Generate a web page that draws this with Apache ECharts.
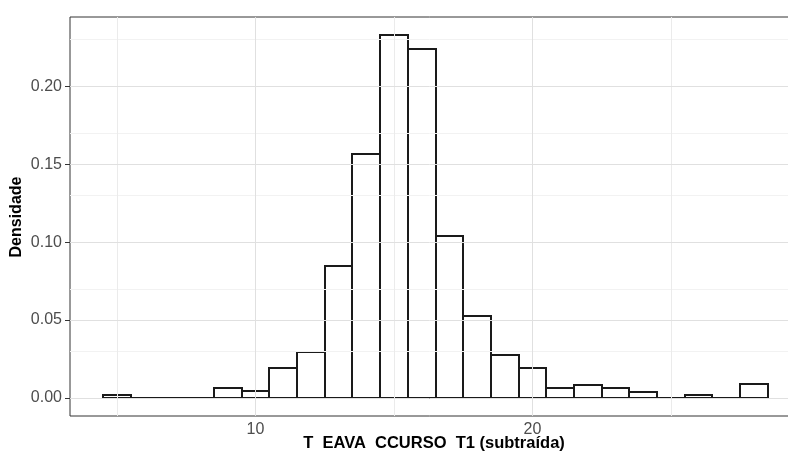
<!DOCTYPE html>
<html>
<head>
<meta charset="utf-8">
<script src="https://cdn.jsdelivr.net/npm/echarts@6/dist/echarts.min.js"></script>
<style>
  html, body { margin: 0; padding: 0; background: #fff; }
  #chart { width: 788px; height: 457px; }
</style>
</head>
<body>
<div id="chart"></div>
<script>
// bin centres (binwidth 1) and density per bin
const bins = [5, 6, 7, 8, 9, 10, 11, 12, 13, 14, 15, 16, 17, 18, 19, 20, 21, 22, 23, 24, 25, 26, 27, 28]
const density = [0.0021, 0, 0, 0, 0.0064, 0.0045, 0.0192, 0.0297, 0.0846, 0.1564, 0.2329, 0.2241,
  0.1038, 0.0528, 0.0276, 0.019, 0.0062, 0.0083, 0.0062, 0.0038, 0, 0.0021, 0, 0.0088]
const xTicks = [10, 20]
const xMinor = [5, 15, 25]
const yTicks = [0, 0.05, 0.1, 0.15, 0.2]
const yMinor = [0.025, 0.075, 0.125, 0.175, 0.225]

const FONT = 'Liberation Sans'
const chart = echarts.init(document.getElementById('chart'))

const gridLine = (vals, key, color) =>
  vals.map((v) => ({ [key]: v, lineStyle: { color: color, width: 1, type: 'solid' } }))

const option = {
  animation: false,
  textStyle: { fontFamily: FONT },
  grid: {
    left: 70,
    top: 17,
    bottom: 41,
    right: -13,
    outerBoundsMode: 'none',
    containLabel: false,
    show: true,
    borderColor: '#333333',
    borderWidth: 1,
    backgroundColor: 'transparent',
  },
  xAxis: {
    type: 'value',
    min: 3.3,
    max: 29.7,
    axisLine: { show: false },
    splitLine: { show: false },
    axisTick: { customValues: xTicks, length: 5, lineStyle: { color: '#333333' } },
    axisLabel: {
      customValues: xTicks,
      color: '#4D4D4D',
      fontSize: 16,
      margin: 6,
      fontFamily: FONT,
    },
  },
  yAxis: {
    type: 'value',
    min: -0.01165,
    max: 0.24455,
    axisLine: { show: false },
    splitLine: { show: false },
    axisTick: { customValues: yTicks, length: 5, lineStyle: { color: '#333333' } },
    axisLabel: {
      customValues: yTicks,
      color: '#4D4D4D',
      fontSize: 16,
      margin: 8,
      fontFamily: FONT,
      formatter: (v) => v.toFixed(2),
    },
  },
  graphic: [
    {
      type: 'text',
      x: 16.5,
      y: 217,
      rotation: Math.PI / 2,
      style: {
        text: 'Densidade',
        font: 'bold 16px "Liberation Sans"',
        fill: '#000',
        align: 'center',
        verticalAlign: 'middle',
      },
    },
    {
      type: 'text',
      x: 434,
      y: 443.5,
      style: {
        text: 'T\u2007EAVA\u2007CCURSO\u2007T1 (subtraída)',
        font: 'bold 16.5px "Liberation Sans"',
        fill: '#000',
        align: 'center',
        verticalAlign: 'middle',
      },
    },
  ],
  series: [
    {
      type: 'line',
      data: [],
      silent: true,
      z: 1,
      markLine: {
        silent: true,
        symbol: ['none', 'none'],
        label: { show: false },
        data: [
          ...gridLine(yMinor, 'yAxis', '#F2F2F2'),
          ...gridLine(xMinor, 'xAxis', '#EBEBEB'),
          ...gridLine(yTicks, 'yAxis', '#E0E0E0'),
          ...gridLine(xTicks, 'xAxis', '#E0E0E0'),
        ],
      },
    },
    {
      type: 'custom',
      z: 3,
      data: bins.map((b, i) => [b, density[i]]),
      renderItem: function (params, api) {
        const x = api.value(0)
        const topLeft = api.coord([x - 0.5, api.value(1)])
        const botRight = api.coord([x + 0.5, 0])
        const x0 = Math.round(topLeft[0])
        const y0 = Math.round(topLeft[1])
        const x1 = Math.round(botRight[0])
        const y1 = Math.round(botRight[1])
        return {
          type: 'rect',
          shape: { x: x0, y: y0, width: x1 - x0, height: y1 - y0 },
          style: { fill: '#ffffff', stroke: '#1a1a1a', lineWidth: 2 },
        }
      },
    },
  ],
}
chart.setOption(option)
</script>
</body>
</html>
